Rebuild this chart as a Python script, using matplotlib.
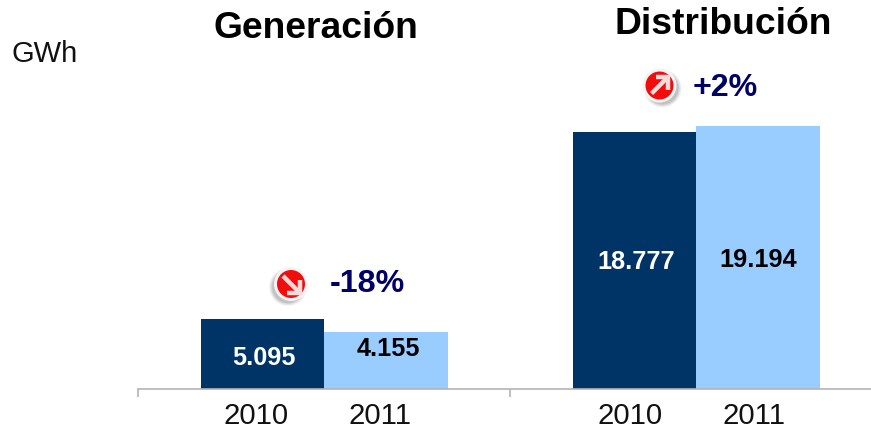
import matplotlib
matplotlib.use('Agg')
import matplotlib.pyplot as plt
from matplotlib.patches import Circle

plt.rcParams['font.family'] = ['Liberation Sans', 'DejaVu Sans']

W, H = 871, 429

groups = ['Generación', 'Distribución']
years = ['2010', '2011']
values_2010 = [5095, 18777]
values_2011 = [4155, 19194]
labels_2010 = ['5.095', '18.777']
labels_2011 = ['4.155', '19.194']
changes = ['-18%', '+2%']
unit = 'GWh'

DARK = '#003366'
LIGHT = '#99CCFF'
GREY = '#B4B4B4'
NAVY = '#000066'

fig = plt.figure(figsize=(W / 100, H / 100), dpi=100)

# main axes, baseline at y=389 px, group width 372 px
ax = fig.add_axes([138 / W, (H - 389) / H, (W - 138) / W, 389 / H])
bw = 123.5 / 372
off = bw / 2
for i in range(len(groups)):
    ax.bar(i - off, values_2010[i], bw, color=DARK, linewidth=0)
    ax.bar(i + off, values_2011[i], bw, color=LIGHT, linewidth=0)
ax.set_xlim(-0.5, -0.5 + (W - 138) / 372)
ax.set_ylim(0, 389 / 0.01369)
for s in ['top', 'right', 'left']:
    ax.spines[s].set_visible(False)
ax.spines['bottom'].set_color(GREY)
ax.spines['bottom'].set_linewidth(1.2)
ax.set_yticks([])
ax.set_xticks([-0.5, 0.5])
ax.set_xticklabels([])
ax.tick_params(axis='x', length=6, width=1.2, color=GREY)

# overlay in pixel coordinates for the text and icons
ov = fig.add_axes([0, 0, 1, 1], facecolor='none')
ov.set_xlim(0, W)
ov.set_ylim(H, 0)
ov.axis('off')

year_x = [(256, 380), (630, 754)]
val_x = [(263.5, 388), (636, 758)]
val_y = [(358, 349), (262, 260)]
for i in range(2):
    for j in range(2):
        ov.text(year_x[i][j], 416, years[j], ha='center', va='center', fontsize=21.2, color='#111111')
    ov.text(val_x[i][0], val_y[i][0], labels_2010[i], ha='center', va='center', fontsize=18.2,
            fontweight='bold', color='white')
    ov.text(val_x[i][1], val_y[i][1], labels_2011[i], ha='center', va='center', fontsize=18.2,
            fontweight='bold', color='black')

ov.text(316, 29, groups[0], ha='center', va='center', fontsize=26.8, fontweight='bold', color='black')
ov.text(723, 25, groups[1], ha='center', va='center', fontsize=26.8, fontweight='bold', color='black')
ov.text(45, 54, unit, ha='center', va='center', fontsize=21, color='#111111')
ov.text(367, 284, changes[0], ha='center', va='center', fontsize=23.2, fontweight='bold', color=NAVY)
ov.text(725, 88, changes[1], ha='center', va='center', fontsize=23.2, fontweight='bold', color=NAVY)


def icon(cx, cy, sx, sgn):
    # soft shadow, white ring, red disc
    for r, a in [(19, 0.07), (18, 0.1), (17, 0.14), (16, 0.18)]:
        ov.add_patch(Circle((cx + sx, cy + 3), r, color='#707070', alpha=a, lw=0))
    ov.add_patch(Circle((cx, cy), 17, color='#F4F4F4', lw=0))
    ov.add_patch(Circle((cx, cy), 14, color='#F20D0D', lw=0))
    # arrow: sgn=1 points down-right, sgn=-1 points up-right
    c = '#FBDADA'
    ov.plot([cx - 8, cx + 7], [cy - 8 * sgn, cy + 7 * sgn], color=c, lw=3.2, solid_capstyle='butt')
    ov.plot([cx + 8.5, cx + 8.5, cx - 4], [cy - 4 * sgn, cy + 8.5 * sgn, cy + 8.5 * sgn], color=c, lw=3.2,
            solid_joinstyle='miter', solid_capstyle='butt')


icon(291, 284, -3, 1)
icon(659.5, 85.5, 3, -1)

fig.savefig('out.png', dpi=100)
